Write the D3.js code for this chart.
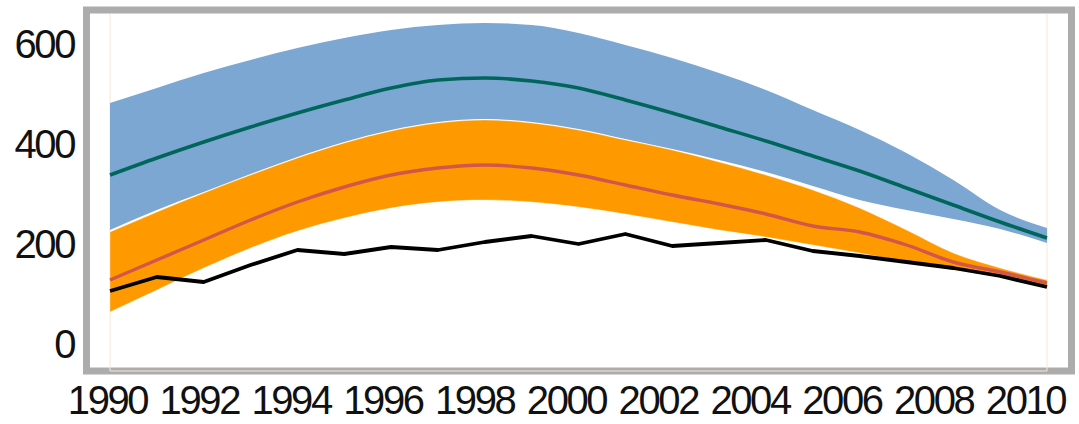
<!DOCTYPE html>
<html>
<head>
<meta charset="utf-8">
<script src="https://cdn.jsdelivr.net/npm/d3@7"></script>
<style>
  html, body { margin: 0; padding: 0; background: #fff; }
  svg { display: block; }
  text { font-family: "Liberation Sans", Arial, sans-serif; fill: #111; }
</style>
</head>
<body>
<svg id="chart" width="1079" height="424"></svg>
<script>
// Years of the series
const years = [1990, 1991, 1992, 1993, 1994, 1995, 1996, 1997, 1998, 1999, 2000,
               2001, 2002, 2003, 2004, 2005, 2006, 2007, 2008, 2009, 2010];

// Upper projection: band bounds and central estimate
const blueHigh = [484, 514, 544, 570, 594, 614, 630, 640, 644, 640, 624,
                  600, 574, 544, 510, 470, 430, 384, 330, 270, 234];
const blueLow  = [230, 270, 306, 342, 376, 406, 430, 446, 452, 446, 432,
                  412, 392, 370, 346, 318, 290, 270, 252, 232, 204];
const blueMid  = [340, 374, 406, 436, 464, 490, 514, 530, 534, 528, 514,
                  490, 464, 436, 408, 378, 348, 314, 280, 246, 214];

// Lower projection: band bounds and central estimate
const orangeHigh = [226, 266, 304, 340, 374, 404, 428, 444, 450, 444, 430,
                    410, 390, 366, 340, 310, 274, 230, 184, 154, 130];
const orangeLow  = [66, 110, 154, 194, 228, 254, 274, 286, 290, 286, 276,
                    262, 246, 230, 216, 200, 184, 166, 150, 136, 118];
const orangeMid  = [130, 170, 210, 250, 286, 316, 340, 354, 360, 354, 340,
                    320, 300, 282, 262, 238, 226, 200, 166, 146, 124];

// Observed values
const observed = [108, 136, 126, 160, 190, 182, 196, 190, 206, 218, 202,
                  222, 198, 204, 210, 188, 178, 166, 154, 138, 116];

// Axis ticks
const xTicks = [1990, 1992, 1994, 1996, 1998, 2000, 2002, 2004, 2006, 2008, 2010];
const yTicks = [0, 200, 400, 600];

const svg = d3.select("#chart");

const x = d3.scaleLinear().domain([1990, 2010]).range([110, 1047]);
const xLabel = d3.scaleLinear().domain([1990, 2010]).range([107, 1025]);
const y = d3.scaleLinear().domain([0, 600]).range([345, 45]);

// Outer grey frame
svg.append("rect")
  .attr("x", 86.5).attr("y", 10)
  .attr("width", 985).attr("height", 361)
  .attr("fill", "#fff")
  .attr("stroke", "#acacac")
  .attr("stroke-width", 7);

// Plot panel edges
svg.append("path")
  .attr("d", `M${x(1990)},14 V371 H${x(2010)} V14`)
  .attr("fill", "none")
  .attr("stroke", "#fbe6d2")
  .attr("stroke-width", 1);

const smooth = d3.curveMonotoneX;

function band(hi, lo) {
  return d3.area()
    .x((d, i) => x(years[i]))
    .y0((d, i) => y(lo[i]))
    .y1((d, i) => y(hi[i]))
    .curve(smooth)(years);
}

function line(vals, curve) {
  return d3.line()
    .x((d, i) => x(years[i]))
    .y((d, i) => y(vals[i]))
    .curve(curve)(years);
}

svg.append("path")
  .attr("d", band(blueHigh, blueLow))
  .attr("fill", "#7ba7d2");

svg.append("path")
  .attr("d", band(orangeHigh, orangeLow))
  .attr("fill", "#ff9900")
  .attr("stroke", "#fff")
  .attr("stroke-width", 0.6)
  .attr("stroke-opacity", 0.6);

svg.append("path")
  .attr("d", line(blueMid, smooth))
  .attr("fill", "none")
  .attr("stroke", "#00665c")
  .attr("stroke-width", 3.6);

svg.append("path")
  .attr("d", line(orangeMid, smooth))
  .attr("fill", "none")
  .attr("stroke", "#d4554a")
  .attr("stroke-width", 3.4);

svg.append("path")
  .attr("d", line(observed, d3.curveLinear))
  .attr("fill", "none")
  .attr("stroke", "#000")
  .attr("stroke-width", 3.8)
  .attr("stroke-linejoin", "round");

const labelStyle = sel => sel
  .attr("font-size", 40)
  .attr("letter-spacing", -2.4)
  .attr("fill", "#0a0a0a")
  .style("font-family", '"Liberation Sans", Arial, sans-serif');

// Y axis labels
const yAxis = d3.axisLeft(y).tickValues(yTicks).tickSize(0).tickPadding(0);
const gy = svg.append("g").attr("transform", "translate(74,0)").call(yAxis);
gy.select(".domain").remove();
gy.selectAll("text").call(labelStyle);

// X axis labels
const xAxis = d3.axisBottom(xLabel).tickValues(xTicks).tickFormat(d3.format("d")).tickSize(0).tickPadding(0);
const gx = svg.append("g").attr("transform", "translate(0,386)").call(xAxis);
gx.select(".domain").remove();
gx.selectAll("text").call(labelStyle);
</script>
</body>
</html>
